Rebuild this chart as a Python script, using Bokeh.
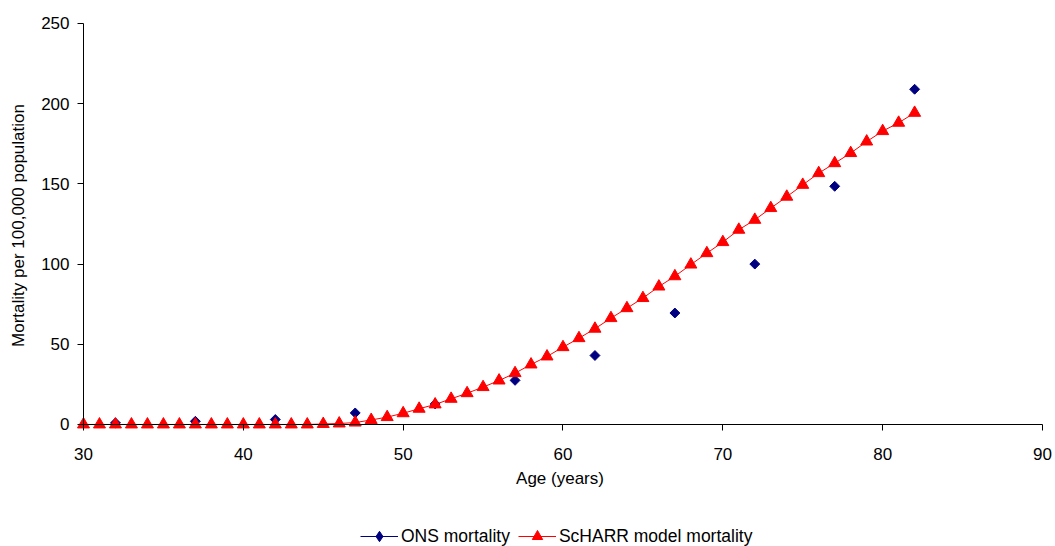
import numpy as np
from bokeh.plotting import figure
from bokeh.layouts import column
from bokeh.models import (Range1d, SingleIntervalTicker, Legend, LegendItem,
                          ColumnDataSource, LinearAxis)
from bokeh.embed import file_html
from bokeh.resources import INLINE

# ---- data ----
ons_age = [32, 37, 42, 47, 52, 57, 62, 67, 72, 77, 82]
ons_mortality = [1.0, 2.0, 3.1, 7.2, 12.8, 27.5, 43.0, 69.5, 100.0, 148.5, 209.0]

model_age = list(range(30, 83))
model_mortality = [0, 0, 0, 0, 0, 0, 0, 0, 0, 0, 0, 0, 0, 0, 0,
                   0.3, 0.6, 1.2, 2.8, 4.6, 7.0, 9.8, 12.5, 16.0, 19.5,
                   23.3, 27.4, 32.0, 37.4, 42.4, 48.2, 53.8, 59.7, 66.3, 72.5,
                   78.8, 86.0, 92.4, 99.7, 106.8, 113.7, 121.4, 127.6, 134.9, 142.0,
                   149.4, 156.7, 162.9, 169.2, 176.4, 182.9, 188.1, 194.3]

series_names = ["ONS mortality", "ScHARR model mortality"]
x_axis_bounds = (30, 90)
y_axis_bounds = (0, 250)
x_tick_interval = 10
y_tick_interval = 50
FONT = "Liberation Sans"
ONS_COLOR = "#000080"
MODEL_COLOR = "#FF0000"

p = figure(width=1055, height=526, output_backend="svg", toolbar_location=None,
           x_range=Range1d(29.3744, 90.2503), y_range=Range1d(-5, 253.117),
           min_border_left=73, min_border_right=9, min_border_top=18, min_border_bottom=94)
p.outline_line_color = None
p.grid.visible = False
p.background_fill_color = "white"
p.border_fill_color = "white"

xt = SingleIntervalTicker(interval=x_tick_interval, num_minor_ticks=0)
yt = SingleIntervalTicker(interval=y_tick_interval, num_minor_ticks=0)

# label-only axes in the side panels (never clipped)
for ax in (p.xaxis[0], p.yaxis[0]):
    ax.axis_line_color = None
    ax.major_tick_line_color = None
    ax.minor_tick_line_color = None
    ax.major_tick_in = 0
    ax.major_tick_out = 0
    ax.major_label_text_font = FONT
    ax.major_label_text_font_size = "17px"
    ax.major_label_text_color = "black"
    ax.axis_label_text_font = FONT
    ax.axis_label_text_font_size = "17px"
    ax.axis_label_text_font_style = "normal"
    ax.axis_label_text_color = "black"
p.xaxis[0].ticker = xt
p.yaxis[0].ticker = yt
p.xaxis[0].axis_label = "Age (years)"
p.yaxis[0].axis_label = "Mortality per 100,000 population"
p.xaxis[0].major_label_standoff = 15
p.xaxis[0].axis_label_standoff = 6
p.yaxis[0].major_label_standoff = 4
p.yaxis[0].axis_label_standoff = 10

# axis lines + ticks through the data origin (age 30, mortality 0)
xline = LinearAxis(fixed_location=0, bounds=x_axis_bounds, ticker=xt,
                   major_tick_in=6, major_tick_out=0, minor_tick_line_color=None,
                   axis_line_color="black", major_tick_line_color="black",
                   major_label_text_font_size="1px", major_label_text_color=None,
                   major_label_standoff=0)
yline = LinearAxis(fixed_location=30, bounds=y_axis_bounds, ticker=yt,
                   major_tick_in=6, major_tick_out=0, minor_tick_line_color=None,
                   axis_line_color="black", major_tick_line_color="black",
                   major_label_text_font_size="1px", major_label_text_color=None,
                   major_label_standoff=0)
p.add_layout(xline, "above")
p.add_layout(yline, "right")

ons_src = ColumnDataSource(dict(x=ons_age, y=ons_mortality))
mod_src = ColumnDataSource(dict(x=model_age, y=model_mortality))

p.scatter("x", "y", source=ons_src, marker="square", size=7, angle=np.pi / 4,
          fill_color=ONS_COLOR, line_color=ONS_COLOR)
p.line("x", "y", source=mod_src, line_color=MODEL_COLOR, line_width=1)
p.scatter("x", "y", source=mod_src, marker="triangle", size=12,
          fill_color=MODEL_COLOR, line_color=MODEL_COLOR)

# ---- legend strip under the chart (its glyphs reuse the series data, out of view) ----
lg = figure(width=1055, height=20, output_backend="svg", toolbar_location=None,
            x_range=Range1d(0, 1), y_range=Range1d(0, 1),
            x_axis_location=None, y_axis_location=None,
            min_border_left=0, min_border_right=0, min_border_top=0, min_border_bottom=0)
lg.outline_line_color = None
lg.grid.visible = False
l1 = lg.line("x", "y", source=ons_src, line_color=ONS_COLOR, line_width=1)
s1 = lg.scatter("x", "y", source=ons_src, marker="diamond", size=10,
                fill_color=ONS_COLOR, line_color=ONS_COLOR)
l2 = lg.line("x", "y", source=mod_src, line_color=MODEL_COLOR, line_width=1)
s2 = lg.scatter("x", "y", source=mod_src, marker="triangle", size=12,
                fill_color=MODEL_COLOR, line_color=MODEL_COLOR)

legend = Legend(items=[
    LegendItem(label=series_names[0], renderers=[l1, s1]),
    LegendItem(label=series_names[1], renderers=[l2, s2]),
], orientation="horizontal", location=(287, -3))
legend.border_line_color = None
legend.background_fill_alpha = 0
legend.padding = 0
legend.margin = 0
legend.spacing = 8
legend.glyph_width = 38
legend.glyph_height = 26
legend.label_standoff = 3
legend.label_text_font = FONT
legend.label_text_font_size = "17.5px"
legend.label_text_color = "black"
lg.add_layout(legend, "center")

open("out.html", "w").write(file_html(column(p, lg, spacing=0), INLINE))
